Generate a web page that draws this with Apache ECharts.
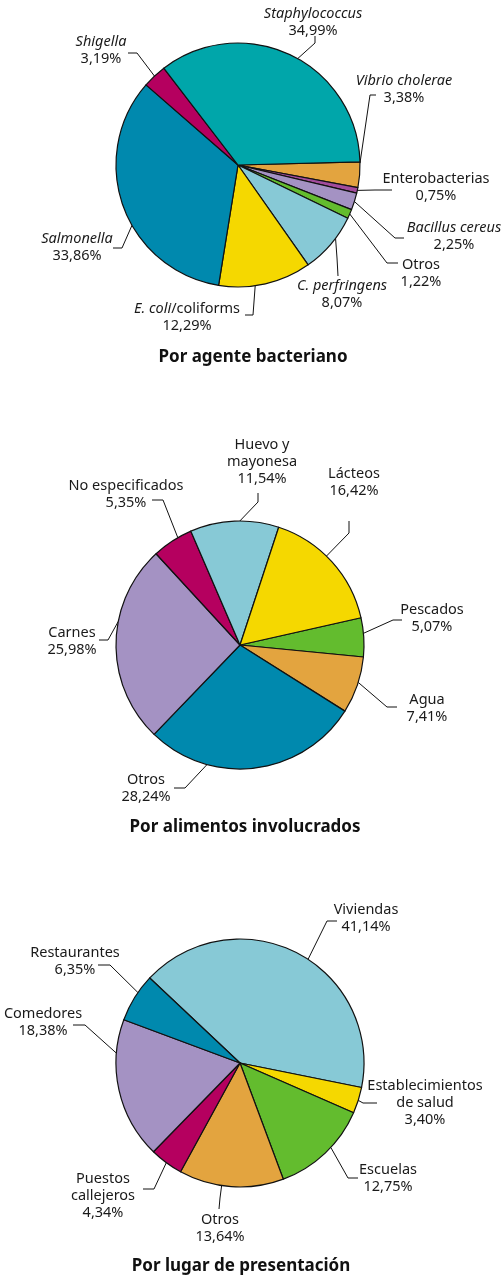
<!DOCTYPE html>
<html>
<head>
<meta charset="utf-8">
<script src="https://cdn.jsdelivr.net/npm/echarts@6/dist/echarts.min.js"></script>
<style>
  html, body { margin: 0; padding: 0; background: #fff; }
  #main { width: 503px; height: 1277px; }
</style>
</head>
<body>
<div id="main"></div>
<script>
// datos
const agenteNames = ['Vibrio cholerae', 'Enterobacterias', 'Bacillus cereus', 'Otros', 'C. perfringens', 'E. coli/coliforms', 'Salmonella', 'Shigella', 'Staphylococcus'];
const agenteValues = [3.38, 0.75, 2.25, 1.22, 8.07, 12.29, 33.86, 3.19, 34.99];

const alimentoNames = ['Pescados', 'Agua', 'Otros', 'Carnes', 'No especificados', 'Huevo y\nmayonesa', 'Lácteos'];
const alimentoValues = [5.07, 7.41, 28.24, 25.98, 5.35, 11.54, 16.42];

const lugarNames = ['Viviendas', 'Establecimientos\nde salud', 'Escuelas', 'Otros', 'Puestos\ncallejeros', 'Comedores', 'Restaurantes'];
const lugarValues = [41.14, 3.40, 12.75, 13.64, 4.34, 18.38, 6.35];

const titles = ['Por agente bacteriano', 'Por alimentos involucrados', 'Por lugar de presentación'];
const italicNames = ['Vibrio cholerae', 'Bacillus cereus', 'C. perfringens', 'Salmonella', 'Shigella', 'Staphylococcus'];

// colores
const C = {
  orange: '#e3a43f', purple: '#a24c9c', lav: '#a492c3', green: '#63bc2e',
  sky: '#87c9d6', yellow: '#f5d800', blue: '#0089ae', magenta: '#b5005f', teal: '#00a6aa'
};
const agenteColors = [C.orange, C.purple, C.lav, C.green, C.sky, C.yellow, C.blue, C.magenta, C.teal];
const alimentoColors = [C.green, C.orange, C.blue, C.lav, C.magenta, C.sky, C.yellow];
const lugarColors = [C.sky, C.yellow, C.green, C.orange, C.magenta, C.lav, C.blue];

// posicion de etiquetas: [x, y, fraccion del sector, codo x, codo y, fin x, fin y]
const agenteLabels = [
  [404, 89, 0.05, 370, 95, 376, 95],
  [436, 187, 0.5, 375, 190, 392, 190],
  [454, 236, 0.5, 395, 238, 404, 238],
  [421, 273, 0.5, 387, 263, 398, 263],
  [342, 294, 0.38, 337, 258, 338, 276],
  [187, 317, 0.61, 253, 315, 245, 315],
  [77, 247, 0.42, 122, 248, 113, 248],
  [101, 50, 0.5, 137, 53, 128, 53],
  [313, 22, 0.53, 315, 43, 315, 36]
];
const alimentoLabels = [
  [432, 618, 0.4, 393, 620, 402, 620],
  [427, 708, 0.45, 387, 707, 397, 707],
  [146, 788, 0.72, 185, 788, 174, 788],
  [72, 641, 0.61, 108, 640, 99, 640],
  [126, 494, 0.65, 163, 500, 152, 500],
  [262, 462, 0.56, 258, 502, 258, 493],
  [354, 482, 0.44, 349, 533, 349, 521]
];
const lugarLabels = [
  [366, 918, 0.54, 327, 921, 337, 921],
  [425, 1103, 0.5, 363, 1103, 377, 1103],
  [388, 1178, 0.42, 348, 1178, 358, 1178],
  [220, 1228, 0.59, 220, 1198, 219, 1209],
  [103, 1196, 0.5, 154, 1189, 143, 1189],
  [43, 1022, 0.76, 85, 1025, 73, 1025],
  [75, 961, 0.62, 110, 965, 98, 965]
];

const FONT = 'Noto Sans';
const fmt = v => v.toFixed(2).replace('.', ',') + '%';

function labelText(p) {
  let head;
  if (italicNames.includes(p.name)) head = '{i|' + p.name + '}';
  else if (p.name.indexOf('E. coli/') === 0) head = '{i|E. coli}{n|/coliforms}';
  else head = p.name.split('\n').map(s => '{n|' + s + '}').join('\n');
  return head + '\n{n|' + fmt(p.value) + '}';
}

function makePie(names, values, colors, center, r, startAngle, places) {
  const total = values.reduce((a, b) => a + b, 0);
  let cum = 0;
  const edges = values.map((v, i) => {
    const a = (startAngle - 360 * (cum + places[i][2] * v) / total) * Math.PI / 180;
    cum += v;
    return [center[0] + r * Math.cos(a), center[1] - r * Math.sin(a)];
  });
  return {
    type: 'pie',
    center: center,
    radius: r,
    startAngle: startAngle,
    clockwise: true,
    avoidLabelOverlap: false,
    silent: true,
    data: names.map((n, i) => ({ name: n, value: values[i], itemStyle: { color: colors[i] } })),
    itemStyle: { borderColor: '#111', borderWidth: 1.2 },
    label: {
      show: true,
      position: 'outside',
      formatter: labelText,
      align: 'center',
      color: '#1a1a1a',
      rich: {
        i: { fontFamily: FONT, fontSize: 14.5, fontStyle: 'italic', lineHeight: 17, color: '#1a1a1a', align: 'center' },
        n: { fontFamily: FONT, fontSize: 14.5, lineHeight: 17, color: '#1a1a1a', align: 'center' }
      }
    },
    labelLine: { show: true, length: 10, length2: 10, lineStyle: { color: '#111', width: 1 } },
    labelLayout: function (params) {
      const p = places[params.dataIndex];
      return {
        x: p[0], y: p[1], align: 'center', verticalAlign: 'middle',
        labelLinePoints: [edges[params.dataIndex], [p[3], p[4]], [p[5], p[6]]]
      };
    },
    emphasis: { disabled: true }
  };
}

const chart = echarts.init(document.getElementById('main'));
chart.setOption({
  backgroundColor: '#fff',
  animation: false,
  series: [
    makePie(agenteNames, agenteValues, agenteColors, [238, 165], 122, 1.5, agenteLabels),
    makePie(alimentoNames, alimentoValues, alimentoColors, [240, 645], 124, 12.7, alimentoLabels),
    makePie(lugarNames, lugarValues, lugarColors, [240, 1063], 124, 136.7, lugarLabels)
  ],
  graphic: [[253, 357], [245, 827], [241, 1266]].map((pos, i) => ({
    type: 'text',
    x: pos[0], y: pos[1],
    style: {
      text: titles[i], fill: '#111', fontFamily: FONT, fontSize: 17, fontWeight: 'bold',
      textAlign: 'center', textVerticalAlign: 'middle'
    }
  }))
});
</script>
</body>
</html>
